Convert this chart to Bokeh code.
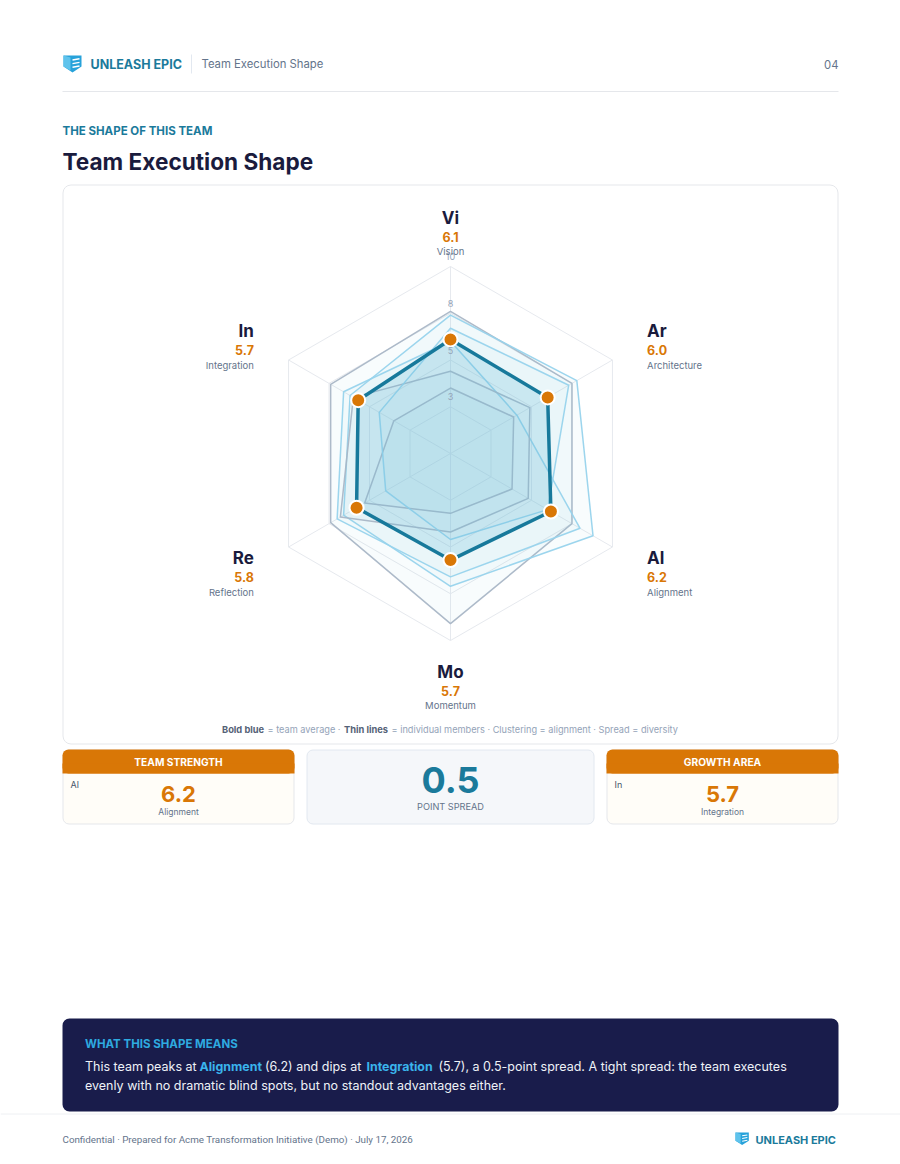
import math
from bokeh.plotting import figure
from bokeh.models import Range1d
from bokeh.core.properties import value
from bokeh.embed import file_html
from bokeh.resources import INLINE

# ---- data -------------------------------------------------------------
axis_codes = ["Vi", "Ar", "Al", "Mo", "Re", "In"]
axis_names = ["Vision", "Architecture", "Alignment", "Momentum", "Reflection", "Integration"]
team_average = [6.1, 6.0, 6.2, 5.7, 5.8, 5.7]

member_1 = [7.6, 7.5, 7.5, 9.1, 7.4, 7.4]
member_2 = [7.4, 7.8, 8.8, 7.1, 6.6, 6.2]
member_3 = [6.0, 4.1, 8.0, 6.6, 7.0, 6.6]
member_4 = [4.4, 4.9, 4.8, 4.2, 6.8, 6.0]
member_5 = [3.5, 3.9, 3.8, 3.2, 5.3, 3.5]
member_6 = [6.7, 7.3, 6.0, 4.6, 4.0, 4.4]
members = [member_1, member_2, member_3, member_4, member_5, member_6]
member_tones = ["slate", "sky", "sky", "slate", "slate", "sky"]

ring_levels = [2.5, 5, 7.5, 10]
scale_max = 10

# ---- page -------------------------------------------------------------
W, H = 900, 1164
p = figure(width=W, height=H, x_range=Range1d(0, W), y_range=Range1d(H, 0),
           output_backend="svg", toolbar_location=None, min_border=0,
           x_axis_location=None, y_axis_location=None)
p.grid.visible = False
p.outline_line_color = None
p.background_fill_color = "white"
p.border_fill_color = "white"

NAVY = "#1a1b3d"
TEAL = "#1b7a9b"
ORANGE = "#d97706"
GRAY = "#64748b"
LIGHT = "#94a3b8"


def txt(x, y, s, size, color, bold=False, align="left", font="Inter", baseline="middle"):
    p.text(x=[x], y=[y], text=[s], text_font=value(font), text_font_size=f"{size}px",
           text_color=color, text_font_style="bold" if bold else "normal",
           text_align=align, text_baseline=baseline)


def box(l, r, t, b, fill, line=None, radius=0, alpha=1.0):
    p.quad(left=[l], right=[r], top=[t], bottom=[b], fill_color=fill, fill_alpha=alpha,
           line_color=line, line_width=1, border_radius=radius)


def logo(x0, y0, s):
    # shield mark with stripes
    xs = [x0, x0 + 18 * s, x0 + 18 * s, x0 + 9 * s, x0]
    ys = [y0, y0, y0 + 11 * s, y0 + 17 * s, y0 + 11 * s]
    p.patch(xs, ys, fill_color="#27a2da", line_color=None)
    p.patch([x0, x0 + 7 * s, x0 + 7 * s, x0], [y0, y0 + 2 * s, y0 + 15 * s, y0 + 11 * s],
            fill_color="#5fc3ec", line_color=None)
    for k in range(3):
        yy = y0 + (4.5 + 3.6 * k) * s
        p.segment(x0=[x0 + 9 * s], y0=[yy], x1=[x0 + 16 * s], y1=[yy - 1.2 * s],
                  line_color="white", line_width=1.4 * s)


# header
logo(63, 55, 1.0)
txt(90, 63.5, "UNLEASH EPIC", 12.5, TEAL, bold=True)
p.segment(x0=[191], y0=[54], x1=[191], y1=[73], line_color="#e2e8f0", line_width=1)
txt(201, 63.5, "Team Execution Shape", 11.3, GRAY)
txt(838, 63.5, "04", 11.3, GRAY, align="right")
p.segment(x0=[62], y0=[91], x1=[838], y1=[91], line_color="#e5e7eb", line_width=1)

txt(62, 130, "THE SHAPE OF THIS TEAM", 11.5, TEAL, bold=True)
txt(62, 161, "Team Execution Shape", 22.6, NAVY, bold=True)

# chart card
box(62.5, 837.5, 184.5, 743.5, "white", line="#e5e7eb", radius=8)

# ---- radar ------------------------------------------------------------
CX, CY, R = 450, 453, 187
angles = [90, 30, -30, -90, -150, 150]


def pt(v, k):
    a = math.radians(angles[k])
    r = v / scale_max * R
    return CX + r * math.cos(a), CY - r * math.sin(a)


def ring(vals):
    xs, ys = zip(*[pt(v, k) for k, v in enumerate(vals)])
    return list(xs), list(ys)


for lv in ring_levels:
    xs, ys = ring([lv] * 6)
    p.line(xs + xs[:1], ys + ys[:1], line_color="#e6e9ee", line_width=1)
ox, oy = ring([scale_max] * 6)
p.segment(x0=[CX] * 6, y0=[CY] * 6, x1=ox, y1=oy, line_color="#e6e9ee", line_width=1)

tone_color = {"slate": "#a9b6c6", "sky": "#97d3ec"}
for vals, tone in zip(members, member_tones):
    xs, ys = ring(vals)
    p.patch(xs, ys, fill_color="#8cc9df", fill_alpha=0.06,
            line_color=tone_color[tone], line_width=1.5, line_alpha=0.95)

ax_, ay_ = ring(team_average)
p.patch(ax_, ay_, fill_color="#5db6d6", fill_alpha=0.22, line_color="#17799b",
        line_width=3.5, line_join="round")
p.scatter(ax_, ay_, size=14, fill_color=ORANGE, line_color="white", line_width=2)

for lv in ring_levels:
    txt(CX, CY - lv / scale_max * R - 10, str(int(lv + 0.5)), 9, LIGHT, align="center")

LR = 227
for k in range(6):
    a = math.radians(angles[k])
    lx = CX + LR * math.cos(a)
    ly = CY - LR * math.sin(a) + 10
    c = math.cos(a)
    align = "left" if c > 0.1 else ("right" if c < -0.1 else "center")
    txt(lx, ly - 19, axis_codes[k], 17, NAVY, bold=True, align=align)
    txt(lx, ly, f"{team_average[k]:.1f}", 12.5, ORANGE, bold=True, align=align)
    txt(lx, ly + 15, axis_names[k], 9.5, GRAY, align=align)

# legend line
LY = 729
txt(221.5, LY, "Bold blue", 9.3, "#556277", bold=True)
txt(267, LY, "= team average ·", 9.2, LIGHT)
txt(343.5, LY, "Thin lines", 9.3, "#556277", bold=True)
txt(391, LY, "= individual members · Clustering = alignment · Spread = diversity", 9.2, LIGHT)

# ---- summary cards ----------------------------------------------------
hi = max(range(6), key=lambda i: (team_average[i], -i))
lo = min(range(6), key=lambda i: (team_average[i], -i))
spread = round(team_average[hi] - team_average[lo], 1)


def stat_card(l, r, title, idx):
    box(l + 0.5, r - 0.5, 749.5, 823.5, "#fffdf8", line="#e5e7eb", radius=6)
    box(l, r, 749, 773, ORANGE, radius=6)
    box(l, r, 763, 773, ORANGE)
    mid = (l + r) / 2
    txt(mid, 761.5, title, 10.2, "white", bold=True, align="center")
    txt(l + 8, 784, axis_codes[idx], 9, "#475569")
    txt(mid, 793, f"{team_average[idx]:.1f}", 22, ORANGE, bold=True, align="center")
    txt(mid, 811, axis_names[idx], 8.5, GRAY, align="center")


stat_card(62, 294, "TEAM STRENGTH", hi)
stat_card(606, 838, "GROWTH AREA", lo)

box(306.5, 593.5, 749.5, 823.5, "#f5f7fa", line="#e2e8f0", radius=6)
txt(450, 779, f"{spread:.1f}", 36, TEAL, bold=True, align="center")
txt(450, 805.5, "POINT SPREAD", 9.2, GRAY, align="center")

# ---- interpretation panel --------------------------------------------
box(62, 838, 1018, 1111, "#191c4b", radius=7)
txt(84.5, 1043, "WHAT THIS SHAPE MEANS", 11.5, "#2eaae0", bold=True)
HL = "#3ab4ec"
BODY = "#eef2f7"
ty = 1066
txt(84.5, ty, "This team peaks at", 12.5, BODY)
txt(199, ty, axis_names[hi], 12.4, HL, bold=True)
txt(264.5, ty, f"({team_average[hi]:.1f}) and dips at", 12.5, BODY)
txt(366, ty, axis_names[lo], 12.4, HL, bold=True)
txt(438, ty, f"({team_average[lo]:.1f}), a {spread:.1f}-point spread. A tight spread: the team executes",
    12.5, BODY)
txt(84.5, 1085, "evenly with no dramatic blind spots, but no standout advantages either.", 12.5, BODY)

# ---- footer -----------------------------------------------------------
p.segment(x0=[0], y0=[1113.5], x1=[900], y1=[1113.5], line_color="#eef0f3", line_width=1)
txt(62, 1139, "Confidential · Prepared for Acme Transformation Initiative (Demo) · July 17, 2026",
    9.8, GRAY, font="Roboto")
logo(735, 1132, 0.74)
txt(755, 1139, "UNLEASH EPIC", 11, TEAL, bold=True)

open("out.html", "w").write(file_html(p, INLINE))
